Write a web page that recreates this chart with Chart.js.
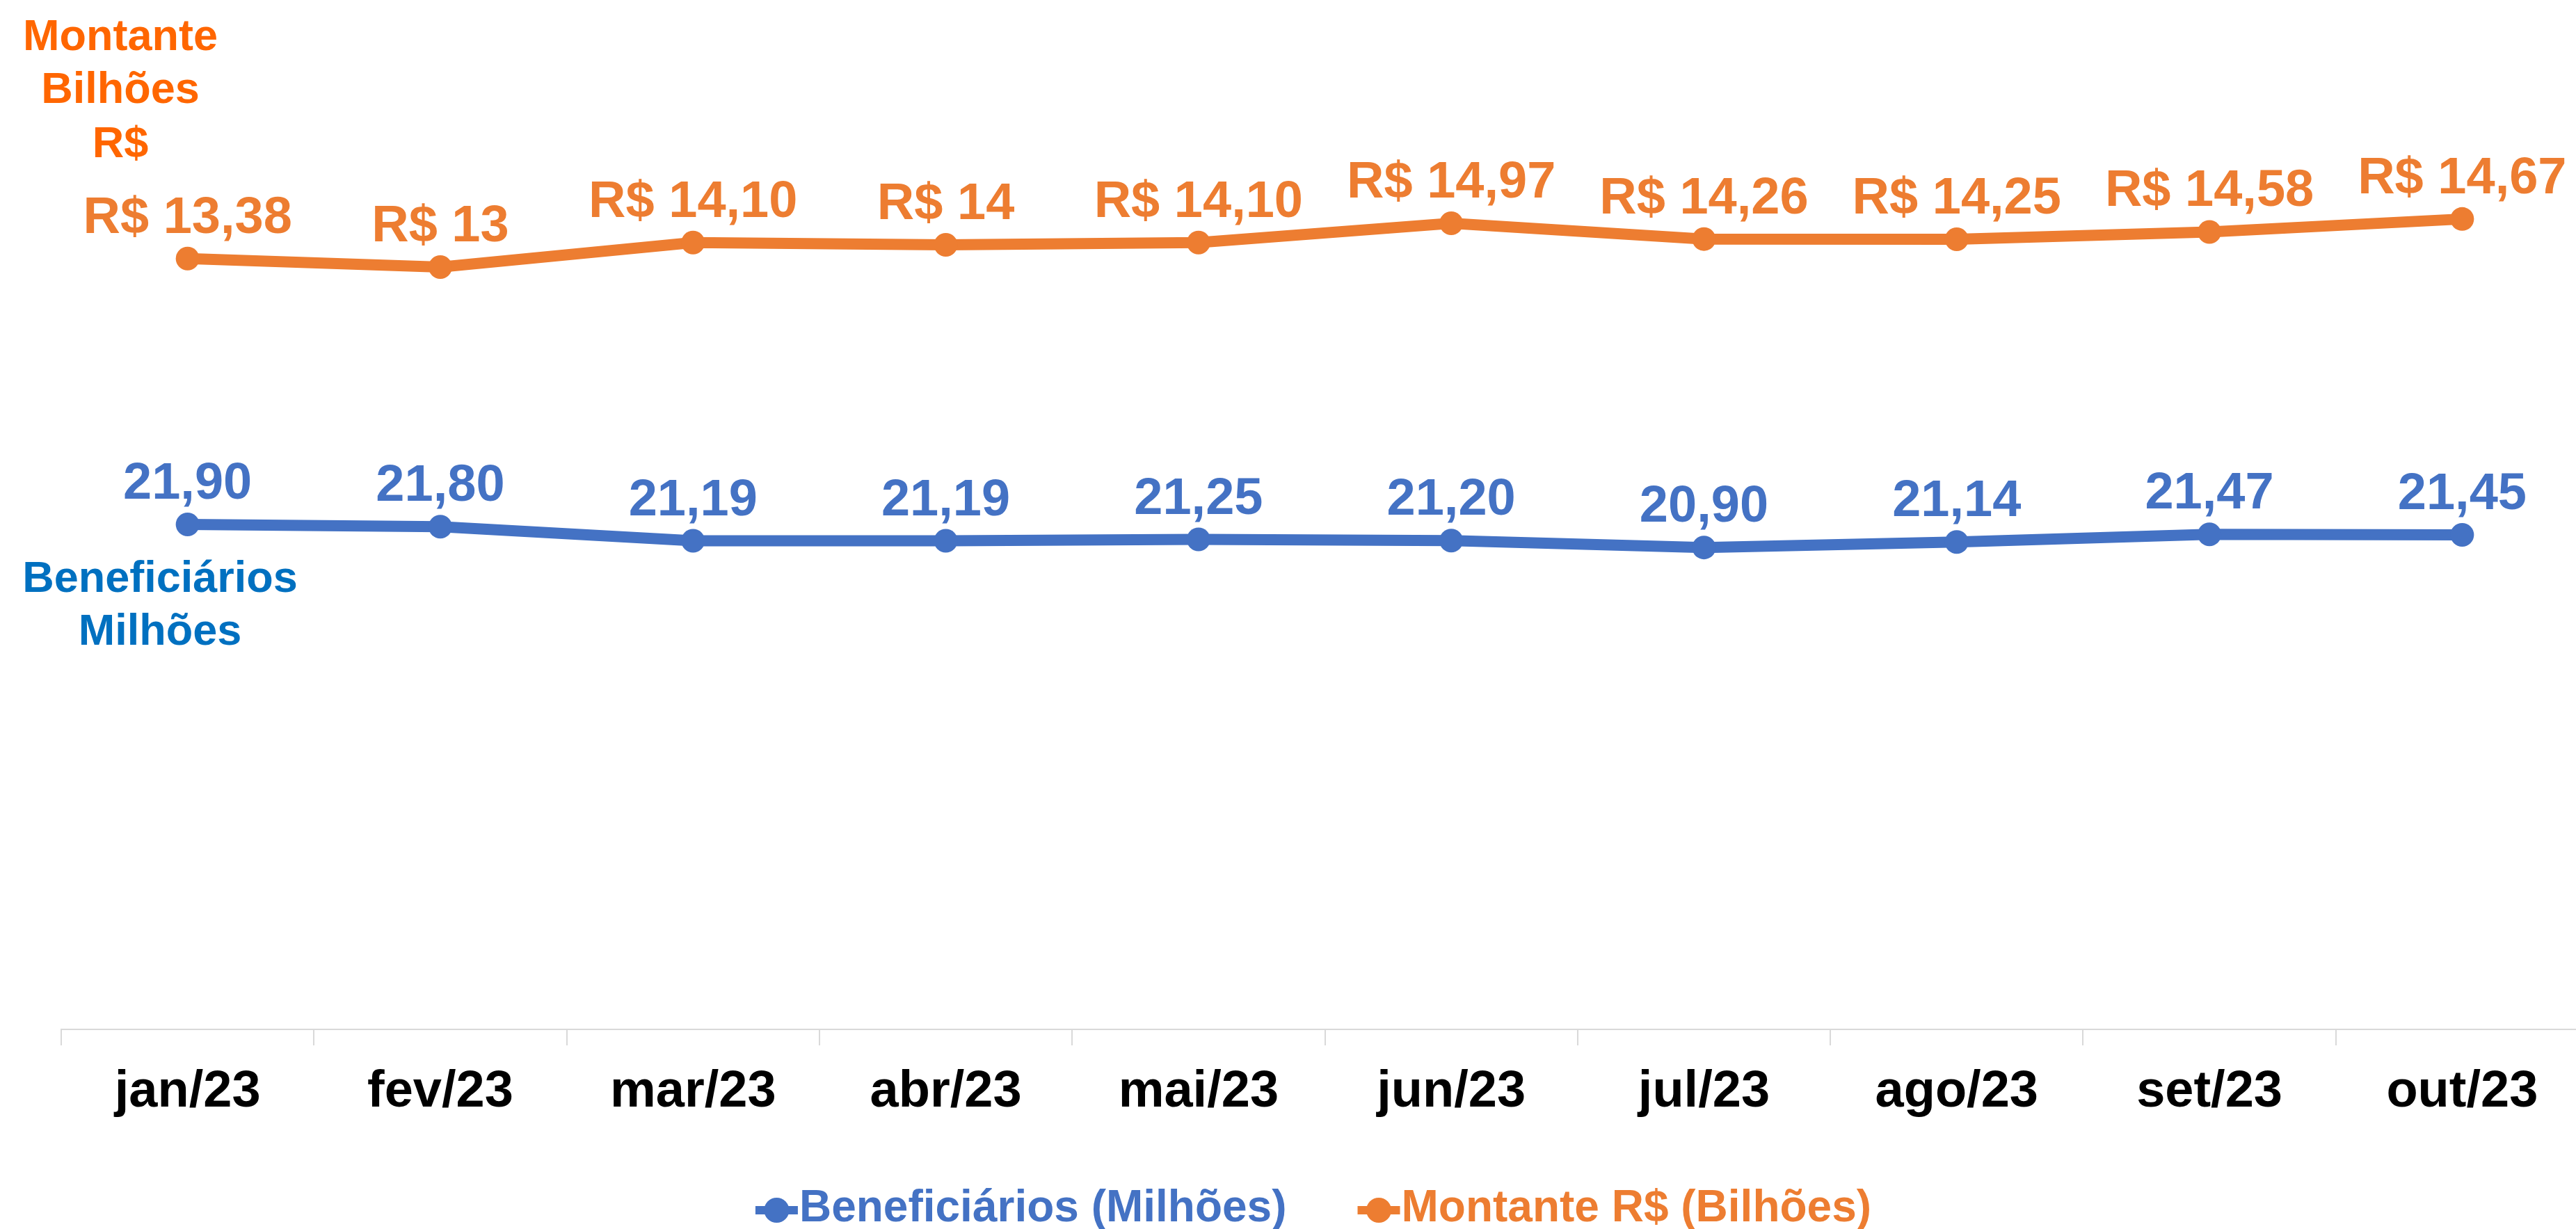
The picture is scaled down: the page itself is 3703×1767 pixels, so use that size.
<!DOCTYPE html>
<html lang="pt-BR">
<head>
<meta charset="utf-8">
<title>Beneficiários e Montante</title>
<script src="https://cdn.jsdelivr.net/npm/chart.js@4.4.1/dist/chart.umd.min.js"></script>
<style>
  html, body { margin: 0; padding: 0; background: #fff; overflow: hidden; }
  canvas { display: block; }
</style>
</head>
<body>
<canvas id="grafico" width="3749" height="1780"></canvas>
<script>
const meses = ["jan/23", "fev/23", "mar/23", "abr/23", "mai/23", "jun/23", "jul/23", "ago/23", "set/23", "out/23"];
const beneficiarios = [21.90, 21.80, 21.19, 21.19, 21.25, 21.20, 20.90, 21.14, 21.47, 21.45];
// o último ponto aparece desenhado acima do rótulo (≈15,16)
const montante = [13.38, 13.00, 14.10, 14.00, 14.10, 14.97, 14.26, 14.25, 14.58, 15.16];
const rotulosBeneficiarios = ["21,90", "21,80", "21,19", "21,19", "21,25", "21,20", "20,90", "21,14", "21,47", "21,45"];
const rotulosMontante = ["R$ 13,38", "R$ 13", "R$ 14,10", "R$ 14", "R$ 14,10", "R$ 14,97", "R$ 14,26", "R$ 14,25", "R$ 14,58", "R$ 14,67"];

const AZUL = "#4472C4";
const LARANJA = "#ED7D31";
const FONTE = "Arial, 'Liberation Sans', sans-serif";

// traço com bolinha, estilo Excel
function desenhaMarcador(ctx, x, y, cor) {
  ctx.strokeStyle = cor;
  ctx.lineWidth = 12;
  ctx.beginPath();
  ctx.moveTo(x, y);
  ctx.lineTo(x + 61, y);
  ctx.stroke();
  ctx.fillStyle = cor;
  ctx.beginPath();
  ctx.arc(x + 30.5, y, 18, 0, Math.PI * 2);
  ctx.fill();
}

// rótulos de dados, títulos laterais e legenda
const rotulosPlugin = {
  id: "rotulos",
  afterDatasetsDraw(chart) {
    const ctx = chart.ctx;
    ctx.save();
    ctx.textAlign = "center";
    ctx.textBaseline = "alphabetic";
    ctx.font = "bold 74px " + FONTE;
    chart.data.datasets.forEach((ds, i) => {
      const meta = chart.getDatasetMeta(i);
      ctx.fillStyle = ds.borderColor;
      meta.data.forEach((pt, j) => {
        ctx.fillText(ds.rotulos[j], pt.x, pt.y - 37);
      });
    });

    ctx.font = "bold 63px " + FONTE;
    ctx.fillStyle = "#FF6600";
    ctx.fillText("Montante", 173, 72);
    ctx.fillText("Bilhões", 173, 148);
    ctx.fillText("R$", 173, 226);
    ctx.fillStyle = "#0070C0";
    ctx.fillText("Beneficiários", 230, 851);
    ctx.fillText("Milhões", 230, 927);

    // legenda
    ctx.font = "bold 64px " + FONTE;
    ctx.textAlign = "left";
    ctx.textBaseline = "middle";
    const itens = chart.data.datasets.map((ds) => ({
      texto: ds.label,
      cor: ds.borderColor,
      largura: ctx.measureText(ds.label).width,
    }));
    const total = itens.reduce((s, it) => s + 63 + it.largura, 0) + 102 * (itens.length - 1);
    let x = 1888 - total / 2;
    itens.forEach((it) => {
      desenhaMarcador(ctx, x, 1740, it.cor);
      ctx.fillStyle = it.cor;
      ctx.fillText(it.texto, x + 63, 1738);
      x += 63 + it.largura + 102;
    });
    ctx.restore();
  }
};

new Chart(document.getElementById("grafico"), {
  type: "line",
  data: {
    labels: meses,
    datasets: [
      {
        label: "Beneficiários (Milhões)",
        data: beneficiarios,
        rotulos: rotulosBeneficiarios,
        yAxisID: "y",
        borderColor: AZUL,
        backgroundColor: AZUL,
        borderWidth: 16,
        pointRadius: 17,
        pointBorderWidth: 0,
        pointBackgroundColor: AZUL,
        tension: 0,
      },
      {
        label: "Montante R$ (Bilhões)",
        data: montante,
        rotulos: rotulosMontante,
        yAxisID: "y1",
        borderColor: LARANJA,
        backgroundColor: LARANJA,
        borderWidth: 16,
        pointRadius: 17,
        pointBorderWidth: 0,
        pointBackgroundColor: LARANJA,
        tension: 0,
      },
    ],
  },
  options: {
    responsive: false,
    animation: false,
    layout: { padding: { top: 154, left: 0, right: 0, bottom: 149 } },
    scales: {
      x: {
        offset: true,
        grid: { offset: true, drawOnChartArea: false, color: "#D9D9D9", lineWidth: 2, tickLength: 23 },
        border: { color: "#D9D9D9", width: 2 },
        ticks: {
          color: "#000",
          font: { size: 74, weight: "bold", family: FONTE },
          padding: 23,
          maxRotation: 0,
          autoSkip: false,
        },
        afterFit(scale) { scale.height = 151; },
      },
      y: {
        position: "left", min: 0, max: 40,
        grid: { display: false }, border: { display: false }, ticks: { display: false },
        afterFit(scale) { scale.width = 88; },
      },
      y1: {
        position: "right", min: -21.27, max: 20.19,
        grid: { display: false }, border: { display: false }, ticks: { display: false },
        afterFit(scale) { scale.width = 28; },
      },
    },
    plugins: {
      tooltip: { enabled: false },
      legend: { display: false },
    },
  },
  plugins: [rotulosPlugin],
});
</script>
</body>
</html>
